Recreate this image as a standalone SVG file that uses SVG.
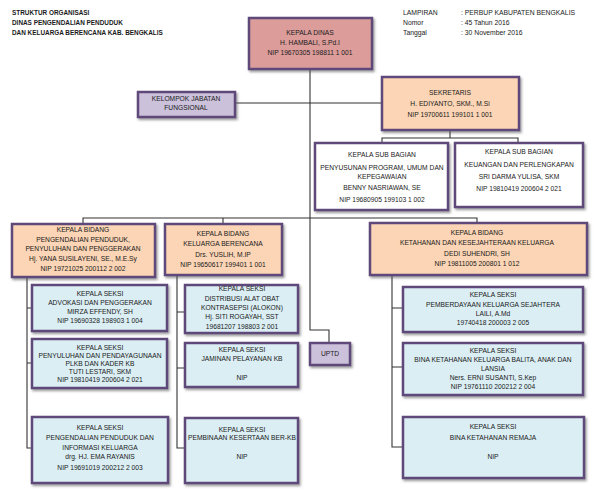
<svg xmlns="http://www.w3.org/2000/svg" width="603" height="490" viewBox="0 0 603 490">
<defs>
<filter id="sh" x="-10%" y="-10%" width="130%" height="140%">
<feDropShadow dx="1.5" dy="2" stdDeviation="1" flood-color="#555" flood-opacity="0.55"/>
</filter>
</defs>
<style>
text{font-family:"Liberation Sans",Arial,sans-serif;font-size:6.7px;fill:#1a1a1a;text-anchor:middle}
.hd{font-weight:bold;font-size:6.4px;text-anchor:start}
.rh{font-size:6.8px;text-anchor:start}
.box{stroke:#5f4a7a;stroke-width:2.5;filter:url(#sh)}
.pink{fill:#dc9c9a}
.peach{fill:#fbd5b5}
.lav{fill:#ccc1da}
.white{fill:#ffffff}
.blue{fill:#dbeef4}
.con{fill:none;stroke:#333;stroke-width:1.1}
</style>
<rect width="603" height="490" fill="#fff"/>
<g id="header">
<text class="hd" x="12" y="15">STRUKTUR ORGANISASI</text>
<text class="hd" x="12" y="25">DINAS PENGENDALIAN PENDUDUK</text>
<text class="hd" x="12" y="35">DAN KELUARGA BERENCANA KAB. BENGKALIS</text>
<text class="rh" x="403" y="15">LAMPIRAN</text>
<text class="rh" x="403" y="25">Nomor</text>
<text class="rh" x="403" y="35">Tanggal</text>
<text class="rh" x="461" y="15">: PERBUP KABUPATEN BENGKALIS</text>
<text class="rh" x="461" y="25">: 45 Tahun 2016</text>
<text class="rh" x="461" y="35">: 30 November 2016</text>
</g>
<g id="connectors">
<path class="con" d="M310 70 V218"/>
<path class="con" d="M235 103 H382"/>
<path class="con" d="M450 130 V138 M382 143 V138 H518 V143"/>
<path class="con" d="M83 224 V218 H477 V223 M223 218 V224"/>
<path class="con" d="M310 218 V330 H329 V343"/>
<path class="con" d="M27 277 V448 H32 M27 308 H32 M27 363 H32"/>
<path class="con" d="M177 275 V448 H185 M177 312 H185 M177 368 H185"/>
<path class="con" d="M392 275 V447 H403 M392 308 H403 M392 367 H403"/>
</g>
<g id="kepala-dinas">
<rect class="box pink" x="249" y="18" width="123" height="51"/>
<text x="310" y="35">KEPALA DINAS</text>
<text x="310" y="45">H. HAMBALI, S.Pd.I</text>
<text x="310" y="55">NIP 19670305 198811 1 001</text>
</g>
<g id="kelompok-jabatan">
<rect class="box lav" x="138" y="92" width="97" height="25"/>
<text x="186" y="101">KELOMPOK JABATAN</text>
<text x="186" y="110">FUNGSIONAL</text>
</g>
<g id="sekretaris">
<rect class="box peach" x="382" y="77" width="137" height="53"/>
<text x="450" y="95">SEKRETARIS</text>
<text x="450" y="106">H. EDIYANTO, SKM., M.Si</text>
<text x="450" y="117">NIP  19700611 199101 1 001</text>
</g>
<g id="subbag-program">
<rect class="box white" x="315" y="143" width="133" height="67"/>
<text x="382" y="157">KEPALA SUB BAGIAN</text>
<text x="382" y="170">PENYUSUNAN PROGRAM, UMUM DAN</text>
<text x="382" y="179">KEPEGAWAIAN</text>
<text x="382" y="190">BENNY NASRIAWAN, SE</text>
<text x="382" y="202">NIP 19680905 199103 1 002</text>
</g>
<g id="subbag-keuangan">
<rect class="box white" x="455" y="143" width="128" height="64"/>
<text x="519" y="154">KEPALA SUB BAGIAN</text>
<text x="519" y="167">KEUANGAN DAN PERLENGKAPAN</text>
<text x="519" y="179">SRI DARMA YULISA, SKM</text>
<text x="519" y="191">NIP  19810419 200604 2 021</text>
</g>
<g id="bidang-pengendalian">
<rect class="box peach" x="12" y="224" width="143" height="53"/>
<text x="83" y="232">KEPALA BIDANG</text>
<text x="83" y="242">PENGENDALIAN PENDUDUK,</text>
<text x="83" y="251">PENYULUHAN DAN PENGGERAKAN</text>
<text x="83" y="261">Hj. YANA SUSILAYENI, SE., M.E.Sy</text>
<text x="83" y="271">NIP 19721025 200112 2 002</text>
</g>
<g id="bidang-kb">
<rect class="box peach" x="165" y="224" width="117" height="51"/>
<text x="223" y="236">KEPALA BIDANG</text>
<text x="223" y="246">KELUARGA BERENCANA</text>
<text x="223" y="257">Drs. YUSLIH, M.IP</text>
<text x="223" y="267">NIP 19650617 199401 1 001</text>
</g>
<g id="bidang-ketahanan">
<rect class="box peach" x="370" y="223" width="217" height="52"/>
<text x="477" y="235">KEPALA BIDANG</text>
<text x="477" y="245">KETAHANAN DAN KESEJAHTERAAN KELUARGA</text>
<text x="477" y="256">DEDI SUHENDRI, SH</text>
<text x="477" y="266">NIP 19811005 200801 1 012</text>
</g>
<g id="seksi-advokasi">
<rect class="box blue" x="32" y="285" width="135" height="46"/>
<text x="100" y="296">KEPALA SEKSI</text>
<text x="100" y="305">ADVOKASI DAN PENGGERAKAN</text>
<text x="100" y="314">MIRZA EFFENDY, SH</text>
<text x="100" y="323">NIP 19690328 198903 1 004</text>
</g>
<g id="seksi-penyuluhan">
<rect class="box blue" x="32" y="339" width="135" height="49"/>
<text x="100" y="350">KEPALA SEKSI</text>
<text x="100" y="358">PENYULUHAN DAN PENDAYAGUNAAN</text>
<text x="100" y="366">PLKB DAN KADER KB</text>
<text x="100" y="374">TUTI LESTARI, SKM</text>
<text x="100" y="382">NIP 19810419 200604 2 021</text>
</g>
<g id="seksi-pengendalian">
<rect class="box blue" x="32" y="417" width="136" height="66"/>
<text x="100" y="430">KEPALA SEKSI</text>
<text x="100" y="440">PENGENDALIAN PENDUDUK DAN</text>
<text x="100" y="450">INFORMASI KELUARGA</text>
<text x="100" y="459">drg. HJ. EMA RAYANIS</text>
<text x="100" y="470">NIP 19691019 200212 2 003</text>
</g>
<g id="seksi-distribusi">
<rect class="box blue" x="185" y="285" width="113" height="48"/>
<text x="242" y="291">KEPALA SEKSI</text>
<text x="242" y="301">DISTRIBUSI ALAT OBAT</text>
<text x="242" y="310">KONTRASEPSI (ALOKON)</text>
<text x="242" y="319">Hj. SITI ROGAYAH, SST</text>
<text x="242" y="329">19681207 198803 2 001</text>
</g>
<g id="seksi-jaminan">
<rect class="box blue" x="185" y="343" width="113" height="44"/>
<text x="242" y="352">KEPALA SEKSI</text>
<text x="242" y="361">JAMINAN PELAYANAN KB</text>
<text x="242" y="380">NIP</text>
</g>
<g id="seksi-pembinaan">
<rect class="box blue" x="185" y="418" width="113" height="65"/>
<text x="242" y="432">KEPALA SEKSI</text>
<text x="242" y="440">PEMBINAAN KESERTAAN BER-KB</text>
<text x="242" y="459">NIP</text>
</g>
<g id="uptd">
<rect class="box lav" x="310" y="343" width="40" height="22"/>
<text x="330" y="356">UPTD</text>
</g>
<g id="seksi-pemberdayaan">
<rect class="box blue" x="403" y="287" width="180" height="45"/>
<text x="493" y="297">KEPALA SEKSI</text>
<text x="493" y="307">PEMBERDAYAAN KELUARGA SEJAHTERA</text>
<text x="493" y="316">LAILI, A.Md</text>
<text x="493" y="325">19740418 200003 2 005</text>
</g>
<g id="seksi-bina-balita">
<rect class="box blue" x="403" y="343" width="180" height="52"/>
<text x="493" y="353">KEPALA SEKSI</text>
<text x="493" y="362">BINA KETAHANAN KELUARGA BALITA, ANAK DAN</text>
<text x="493" y="371">LANSIA</text>
<text x="493" y="380">Ners. ERNI SUSANTI, S.Kep</text>
<text x="493" y="389">NIP  19761110 200212 2 004</text>
</g>
<g id="seksi-bina-remaja">
<rect class="box blue" x="403" y="417" width="181" height="61"/>
<text x="493" y="429">KEPALA SEKSI</text>
<text x="493" y="440">BINA KETAHANAN REMAJA</text>
<text x="493" y="459">NIP</text>
</g>
</svg>
